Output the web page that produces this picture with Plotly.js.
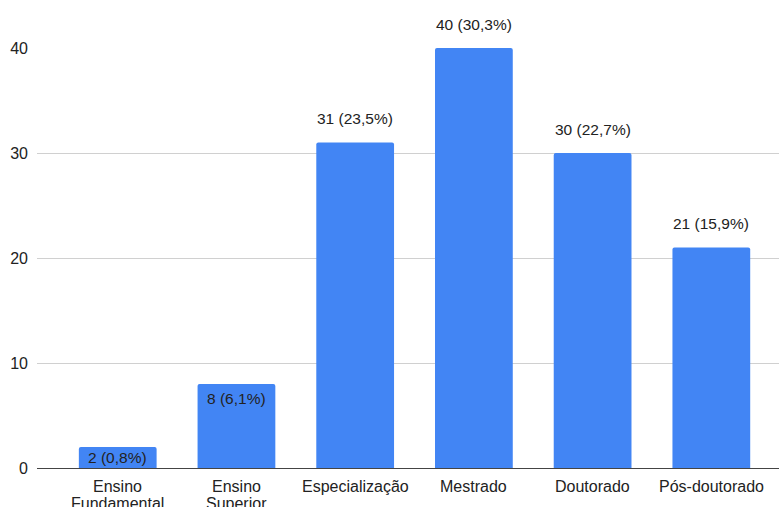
<!DOCTYPE html>
<html>
<head>
<meta charset="utf-8">
<script src="https://cdn.plot.ly/plotly-3.0.1.min.js"></script>
<style>html,body{margin:0;padding:0;background:#fff;}#chart{width:779px;height:507px;}</style>
</head>
<body>
<div id="chart"></div>
<script>
var categories = ["Ensino Fundamental", "Ensino Superior", "Especialização", "Mestrado", "Doutorado", "Pós-doutorado"];
var categoryLines = [["Ensino", "Fundamental"], ["Ensino", "Superior"], ["Especialização"], ["Mestrado"], ["Doutorado"], ["Pós-doutorado"]];
var counts = [2, 8, 31, 40, 30, 21];
var percents = ["0,8%", "6,1%", "23,5%", "30,3%", "22,7%", "15,9%"];
var yTicks = [0, 10, 20, 30, 40];

var FONT = '"Liberation Sans", Arial, sans-serif';
var pxPerUnit = 420 / 40;

var annotations = categories.map(function (c, i) {
  var inside = counts[i] < 10;
  var h = counts[i] * pxPerUnit;
  return {
    x: c, y: counts[i], xref: 'x', yref: 'y',
    text: counts[i] + ' (' + percents[i] + ')',
    showarrow: false,
    yshift: inside ? -Math.min(14, h / 2) : 24,
    font: {family: FONT, size: 15.5, color: '#222222'}
  };
});

categoryLines.forEach(function (lines, i) {
  lines.forEach(function (t, j) {
    annotations.push({
      x: categories[i], y: 0, xref: 'x', yref: 'paper',
      yanchor: 'middle',
      text: t, showarrow: false,
      yshift: -18 - 17 * j,
      font: {family: FONT, size: 16, color: '#222222'}
    });
  });
});

var trace = {
  type: 'bar',
  x: categories,
  y: counts,
  marker: {color: '#4285F4', cornerradius: 2},
  hoverinfo: 'none'
};

var layout = {
  width: 779, height: 507,
  margin: {l: 37, r: 0, t: 48, b: 39},
  paper_bgcolor: '#ffffff', plot_bgcolor: '#ffffff',
  showlegend: false,
  bargap: 0.345,
  font: {family: FONT, size: 16, color: '#222222'},
  xaxis: {
    range: [-0.68, 5.57],
    showgrid: false, zeroline: false, showline: false,
    ticks: '', showticklabels: false,
    fixedrange: true
  },
  yaxis: {
    range: [0, 40],
    tickvals: yTicks,
    ticktext: yTicks.map(String),
    showgrid: true, gridcolor: '#d0d0d0', gridwidth: 1,
    zeroline: true, zerolinecolor: '#444444', zerolinewidth: 1,
    showline: false, ticks: '',
    ticklabelstandoff: 8,
    tickfont: {family: FONT, size: 16, color: '#222222'},
    fixedrange: true
  },
  annotations: annotations
};

Plotly.newPlot('chart', [trace], layout, {displayModeBar: false, staticPlot: true});
</script>
</body>
</html>
